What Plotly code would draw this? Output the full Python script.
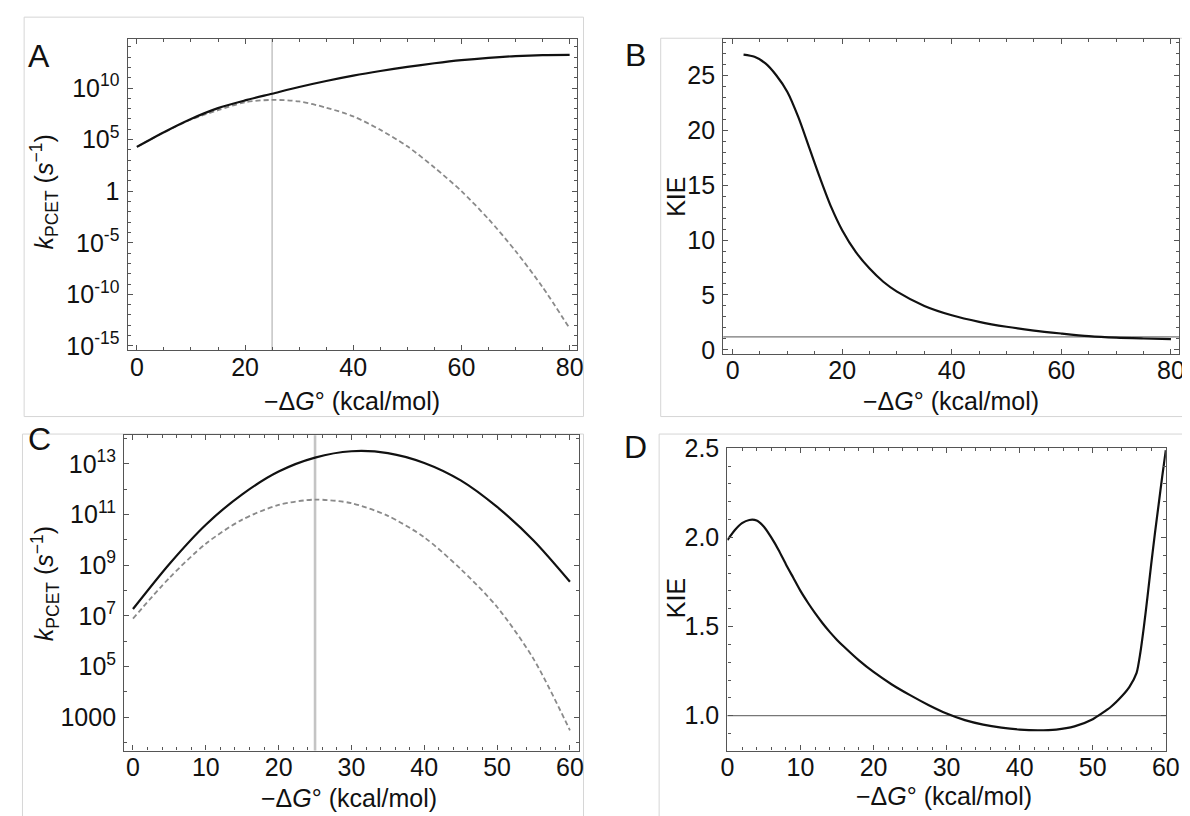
import numpy as np
import plotly.graph_objects as go

W, H = 1190, 816

# ---------------- data ----------------
# Panel A: k_PCET (log10 of s^-1) vs -dG (kcal/mol)
A_x = [0, 5, 10, 15, 20, 25, 30, 35, 40, 45, 50, 55, 60, 65, 70, 75, 80]
A_total_log10 = [4.3, 5.72, 7.0, 8.05, 8.8, 9.45, 10.1, 10.68, 11.2, 11.65,
                 12.05, 12.4, 12.7, 12.93, 13.1, 13.2, 13.22]
A_ground_log10 = [4.3, 5.7, 6.95, 7.85, 8.62, 8.85, 8.7, 8.1, 7.25, 5.95,
                  4.35, 2.3, 0.0, -2.7, -5.8, -9.3, -13.3]
A_ref_x = 25
A_yticks_exp = [-15, -10, -5, 0, 5, 10]
A_xticks = [0, 20, 40, 60, 80]

# Panel B: KIE vs -dG
B_x = [2, 4, 6, 8, 10, 12, 14, 16, 18, 20, 22.5, 25, 27.5, 30, 35, 40, 45,
       50, 55, 60, 65, 70, 75, 80]
B_kie = [26.9, 26.7, 26.1, 25.0, 23.5, 21.2, 18.4, 15.6, 13.0, 10.9, 8.9, 7.4,
         6.2, 5.3, 4.0, 3.15, 2.55, 2.1, 1.75, 1.48, 1.24, 1.1, 1.03, 0.98]
B_ref_y = 1.18
B_yticks = [0, 5, 10, 15, 20, 25]
B_xticks = [0, 20, 40, 60, 80]

# Panel C: k_PCET (log10 of s^-1) vs -dG
C_x = [0, 5, 10, 15, 20, 25, 30, 35, 40, 45, 50, 55, 60]
C_total_log10 = [7.27, 9.05, 10.6, 11.8, 12.7, 13.25, 13.5, 13.43, 13.04,
                 12.35, 11.3, 9.98, 8.35]
C_ground_log10 = [6.89, 8.5, 9.85, 10.8, 11.38, 11.59, 11.45, 10.95, 10.1,
                  8.85, 7.35, 5.3, 2.48]
C_ref_x = 25
C_yticks_exp = [3, 5, 7, 9, 11, 13]
C_xticks = [0, 10, 20, 30, 40, 50, 60]

# Panel D: KIE vs -dG
D_x = [0, 1, 2, 3, 4, 5, 6, 7, 8, 9, 10, 11, 12, 13, 14, 15, 16, 18, 20, 22.5,
       25, 27.5, 30, 32.5, 35, 37.5, 40, 42.5, 45, 47.5, 50, 52.5, 54, 55, 56,
       56.5, 57, 57.5, 58, 58.5, 59, 59.5, 60]
D_kie = [1.985, 2.04, 2.08, 2.098, 2.095, 2.06, 2.0, 1.93, 1.85, 1.775, 1.70,
         1.635, 1.575, 1.52, 1.47, 1.425, 1.385, 1.31, 1.245, 1.175, 1.115,
         1.06, 1.012, 0.975, 0.95, 0.933, 0.922, 0.918, 0.922, 0.94, 0.98,
         1.05, 1.11, 1.16, 1.24, 1.35, 1.5, 1.67, 1.85, 2.02, 2.18, 2.34, 2.49]
D_ref_y = 1.0
D_yticks = [1.0, 1.5, 2.0, 2.5]
D_yticktext = ["1.0", "1.5", "2.0", "2.5"]
D_xticks = [0, 10, 20, 30, 40, 50, 60]

# ---------------- styling ----------------
FONT = "Liberation Sans"
FRAME = "#555555"
BLACK = "#111111"
DASH_GREY = "#8a8a8a"
TICK_SIZE = 25


def xdom(left, right):
    return [left / W, right / W]


def ydom(top, bottom):
    return [1 - bottom / H, 1 - top / H]


def axis(**kw):
    base = dict(showline=True, linecolor=FRAME, linewidth=1.3, mirror="allticks",
                ticks="inside", ticklen=5, tickwidth=1, tickcolor=FRAME,
                showgrid=False, zeroline=False,
                tickfont=dict(family=FONT, size=TICK_SIZE, color=BLACK))
    minor = kw.pop("minor", {})
    m = dict(ticks="inside", ticklen=3, tickwidth=1, tickcolor=FRAME, showgrid=False)
    m.update(minor)
    base["minor"] = m
    base.update(kw)
    return base


fig = go.Figure()

solid = dict(color=BLACK, width=2.2, shape="spline", smoothing=0.8)
dashed = dict(color=DASH_GREY, width=1.8, dash="5px,3px", shape="spline", smoothing=0.8)

# A
fig.add_trace(go.Scatter(x=A_x, y=10 ** np.array(A_ground_log10), mode="lines",
                         line=dashed, xaxis="x", yaxis="y", showlegend=False))
fig.add_trace(go.Scatter(x=A_x, y=10 ** np.array(A_total_log10), mode="lines",
                         line=solid, xaxis="x", yaxis="y", showlegend=False))
# B
fig.add_trace(go.Scatter(x=B_x, y=B_kie, mode="lines", line=solid,
                         xaxis="x2", yaxis="y2", showlegend=False))
# C
fig.add_trace(go.Scatter(x=C_x, y=10 ** np.array(C_ground_log10), mode="lines",
                         line=dashed, xaxis="x3", yaxis="y3", showlegend=False))
fig.add_trace(go.Scatter(x=C_x, y=10 ** np.array(C_total_log10), mode="lines",
                         line=solid, xaxis="x3", yaxis="y3", showlegend=False))
# D
fig.add_trace(go.Scatter(x=D_x, y=D_kie, mode="lines",
                         line=dict(color=BLACK, width=2.2, shape="spline", smoothing=0.6),
                         xaxis="x4", yaxis="y4", showlegend=False))

# reference lines
shapes = [
    dict(type="line", xref="x", yref="y domain", x0=A_ref_x, x1=A_ref_x, y0=0, y1=1,
         line=dict(color="#c8c8c8", width=1.6), layer="below"),
    dict(type="line", xref="x3", yref="y3 domain", x0=C_ref_x, x1=C_ref_x, y0=0, y1=1,
         line=dict(color="#c4c4c4", width=2.6), layer="below"),
    dict(type="line", xref="x2 domain", yref="y2", x0=0, x1=1, y0=B_ref_y, y1=B_ref_y,
         line=dict(color="#777777", width=1.4), layer="below"),
    dict(type="line", xref="x4 domain", yref="y4", x0=0, x1=1, y0=D_ref_y, y1=D_ref_y,
         line=dict(color="#777777", width=1.4), layer="below"),
]
# faint sub-figure boxes
box = dict(color="#d6d6d6", width=1)
for x0, y0, x1, y1 in [(9.3, -5, 578.7, 406), (657.3, 16.7, 1195, 406),
                       (7.6, 424, 578.7, 830), (655.7, 424, 1195, 830)]:
    shapes.append(dict(type="rect", xref="paper", yref="paper",
                       x0=x0 / W, x1=x1 / W, y0=1 - y1 / H, y1=1 - y0 / H,
                       line=box, fillcolor="rgba(0,0,0,0)", layer="below"))

A_ytext = ["1" if e == 0 else f"10<sup>{e}</sup>" for e in A_yticks_exp]
C_ytext = ["1000" if e == 3 else f"10<sup>{e}</sup>" for e in C_yticks_exp]

XSTAND = -6
YSTAND = 2

fig.update_layout(
    width=W, height=H, margin=dict(l=0, r=0, t=0, b=0),
    paper_bgcolor="white", plot_bgcolor="white",
    font=dict(family=FONT, color=BLACK),
    shapes=shapes,
    xaxis=axis(domain=xdom(114.6, 572.3), range=[-1.72, 81.4], anchor="y",
               tickvals=A_xticks, minor=dict(dtick=5, tick0=0), ticklabelstandoff=XSTAND),
    yaxis=axis(domain=ydom(17, 338), type="log", range=[-15.44, 14.8], anchor="x",
               tickvals=[10.0 ** e for e in A_yticks_exp], ticktext=A_ytext,
               minor=dict(tickvals=[10.0 ** e for e in range(-15, 15)]),
               ticklabelstandoff=YSTAND),
    xaxis2=axis(domain=xdom(721, 1185.1), range=[-1.7, 81.5], anchor="y2",
                tickvals=B_xticks, minor=dict(dtick=5, tick0=0), ticklabelstandoff=XSTAND),
    yaxis2=axis(domain=ydom(17.3, 341.7), range=[-0.39, 28.34], anchor="x2",
                tickvals=B_yticks, minor=dict(dtick=1, tick0=0), ticklabelstandoff=YSTAND),
    xaxis3=axis(domain=xdom(111.2, 573.8), range=[-1.2, 61.2], anchor="y3",
                tickvals=C_xticks, minor=dict(dtick=2, tick0=0), ticklabelstandoff=XSTAND),
    yaxis3=axis(domain=ydom(425.3, 749.7), type="log", range=[1.68, 14.13], anchor="x3",
                tickvals=[10.0 ** e for e in C_yticks_exp], ticktext=C_ytext,
                minor=dict(tickvals=[10.0 ** e for e in range(2, 15)]),
                ticklabelstandoff=YSTAND),
    xaxis4=axis(domain=xdom(725.2, 1171.5), range=[0, 60], anchor="y4",
                tickvals=D_xticks, minor=dict(dtick=2, tick0=0), ticklabelstandoff=XSTAND),
    yaxis4=axis(domain=ydom(438.7, 749.7), range=[0.804, 2.5], anchor="x4",
                tickvals=D_yticks, ticktext=D_yticktext,
                minor=dict(dtick=0.1, tick0=0), ticklabelstandoff=YSTAND),
)

xtitle = "−Δ<i>G</i>° (kcal/mol)"
ktitle = "<i>k</i><sub>PCET</sub> (<i>s</i><sup>−1</sup>)"
ann = []


def add_text(text, x, y, size, angle=0):
    ann.append(dict(text=text, x=x / W, y=1 - y / H, xref="paper", yref="paper",
                    xanchor="center", yanchor="middle", showarrow=False,
                    textangle=angle, font=dict(family=FONT, size=size, color=BLACK)))


# panel letters
add_text("A", 24.7, 35, 32)
add_text("B", 632, 34, 32)
add_text("C", 24.7, 429, 32)
add_text("D", 631.5, 437, 32)
# x titles
add_text(xtitle, 343, 390, 25)
add_text(xtitle, 953, 390, 25)
add_text(xtitle, 340, 798, 25)
add_text(xtitle, 946, 796, 25)
# y titles
add_text(ktitle, 30, 175, 25, -90)
add_text("KIE", 672.8, 180, 25, -90)
add_text(ktitle, 30, 578, 25, -90)
add_text("KIE", 672.8, 593, 25, -90)

fig.update_layout(annotations=ann)
fig.write_html("out.html")
